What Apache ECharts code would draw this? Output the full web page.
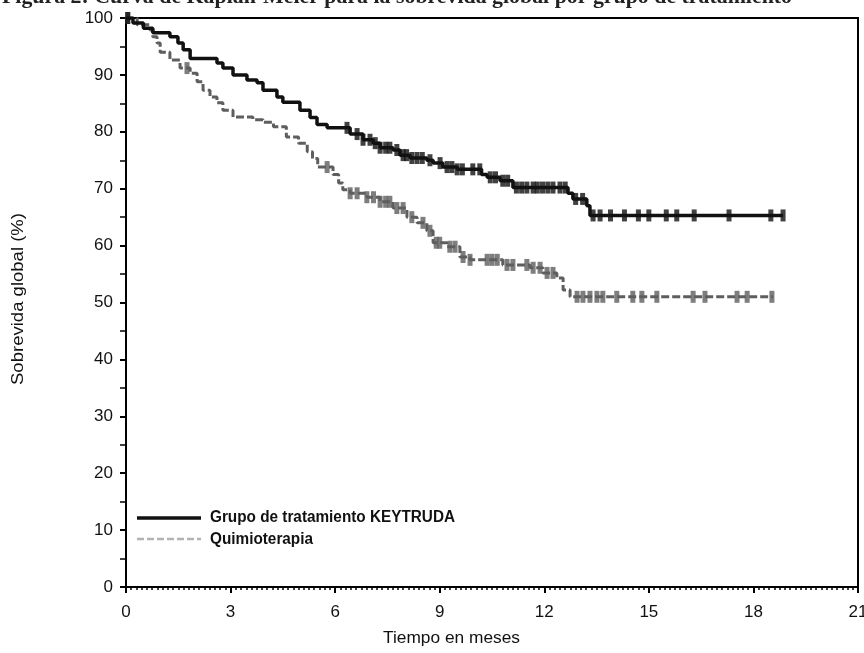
<!DOCTYPE html>
<html><head><meta charset="utf-8">
<script src="https://cdn.jsdelivr.net/npm/echarts@6/dist/echarts.min.js"></script>
<style>html,body{margin:0;padding:0;background:#fff}#c{width:864px;height:653px}</style>
</head><body><div id="c"></div>
<script>
// ---- data ----
var seriesNames = ['Grupo de tratamiento KEYTRUDA', 'Quimioterapia'];
var xTicks = [0, 3, 6, 9, 12, 15, 18, 21];
var yTicks = [0, 10, 20, 30, 40, 50, 60, 70, 80, 90, 100];
var xAxisName = 'Tiempo en meses';
var yAxisName = 'Sobrevida global (%)';
var titleText = 'Figura 2: Curva de Kaplan-Meier para la sobrevida global por grupo de tratamiento';

var keyTime = [0, 0.2, 0.5, 0.77, 1.26, 1.49, 1.64, 1.84, 2.61, 2.78, 3.07, 3.47, 3.76, 3.93, 4.33, 4.5, 4.99, 5.28, 5.48, 5.77, 6.43, 6.8, 7.09, 7.29, 7.66, 7.86, 8.15, 8.63, 8.81, 9.09, 9.5, 10.2, 10.36, 10.73, 11.1, 12.68, 12.82, 13.22, 13.31, 18.85];
var keySurv = [100, 99.1, 98.2, 97.4, 96.7, 95.6, 94.4, 92.9, 92.1, 91.2, 90.0, 89.1, 88.6, 87.3, 86.1, 85.2, 83.8, 82.5, 81.3, 80.7, 79.6, 78.6, 78.0, 77.2, 76.8, 75.9, 75.4, 75.0, 74.5, 73.8, 73.4, 72.5, 72.0, 71.4, 70.2, 69.2, 68.2, 67.0, 65.3, 65.3];
var keyCensor = [0.05, 6.34, 6.63, 6.8, 7.0, 7.15, 7.29, 7.45, 7.57, 7.77, 7.95, 8.05, 8.2, 8.35, 8.5, 8.72, 9.01, 9.21, 9.35, 9.5, 9.65, 9.95, 10.15, 10.45, 10.6, 10.81, 10.95, 11.2, 11.35, 11.5, 11.68, 11.8, 11.95, 12.1, 12.25, 12.45, 12.6, 12.9, 13.1, 13.4, 13.6, 13.9, 14.3, 14.7, 15.0, 15.5, 15.8, 16.3, 17.3, 18.5, 18.85];

var chemoTime = [0, 0.32, 0.69, 0.77, 0.89, 0.98, 1.26, 1.55, 1.84, 2.04, 2.21, 2.41, 2.61, 2.78, 3.07, 3.64, 3.93, 4.23, 4.6, 4.95, 5.2, 5.35, 5.5, 5.94, 6.1, 6.22, 6.43, 6.91, 7.29, 7.66, 8.06, 8.35, 8.63, 8.81, 9.21, 9.58, 9.87, 10.81, 11.59, 11.96, 12.36, 12.54, 12.74, 18.56];
var chemoSurv = [100, 98.8, 97.9, 96.7, 95.6, 94.0, 92.6, 91.2, 90.3, 88.8, 87.3, 86.1, 85.1, 83.8, 82.6, 82.1, 81.7, 80.9, 79.1, 78.0, 76.5, 75.3, 73.8, 72.5, 71.0, 69.8, 69.2, 68.5, 67.7, 66.6, 65.0, 64.0, 62.6, 60.5, 59.8, 58.0, 57.5, 56.6, 56.1, 55.2, 54.3, 52.2, 51.0, 51.0];
var chemoCensor = [0.05, 1.75, 5.77, 6.43, 6.63, 6.91, 7.1, 7.29, 7.45, 7.57, 7.77, 7.95, 8.2, 8.52, 8.72, 8.9, 9.0, 9.29, 9.44, 9.67, 9.87, 10.36, 10.5, 10.65, 10.93, 11.1, 11.5, 11.68, 11.88, 12.08, 12.25, 12.94, 13.11, 13.31, 13.51, 13.68, 14.08, 14.54, 14.8, 15.23, 16.27, 16.61, 17.53, 17.82, 18.53];

// ---- helpers ----
function pairs(t, s) { return t.map(function (v, i) { return [v, s[i]]; }); }
function stepAt(t, s, x) { var v = s[0]; for (var i = 0; i < t.length; i++) { if (t[i] <= x) v = s[i]; } return v; }
function censorPts(ct, t, s) { return ct.map(function (x) { return [x, stepAt(t, s, x)]; }); }
var mctx = document.createElement('canvas').getContext('2d');
function fitScale(text, font, target) { mctx.font = font; return target / mctx.measureText(text).width; }

var black = '#111111', gray = '#5e5e5e';
var chart = echarts.init(document.getElementById('c'), null, { renderer: 'canvas' });
var axisFont = 'Liberation Sans, Arial, sans-serif';
var fName = '17px "Liberation Sans", Arial, sans-serif';
var fLeg = 'bold 16px "Liberation Sans", Arial, sans-serif';
var fTitle = 'bold 22px "Liberation Serif", serif';

chart.setOption({
  animation: false,
  backgroundColor: '#fff',
  graphic: [
    { type: 'text', x: 2, y: 8, scaleX: fitScale(titleText, fTitle, 790), style: { text: titleText, font: fTitle, fill: '#222', verticalAlign: 'bottom' } },
    { type: 'text', x: 383, y: 638, scaleX: fitScale(xAxisName, fName, 137), style: { text: xAxisName, font: fName, fill: '#111', verticalAlign: 'middle' } },
    { type: 'text', x: 18, y: 299, rotation: Math.PI / 2, scaleX: fitScale(yAxisName, fName, 172), style: { text: yAxisName, font: fName, fill: '#111', align: 'center', verticalAlign: 'middle' } },
    // legend
    { type: 'line', shape: { x1: 137, y1: 518, x2: 201, y2: 518 }, style: { stroke: black, lineWidth: 3.5 } },
    { type: 'line', shape: { x1: 137, y1: 539, x2: 201, y2: 539 }, style: { stroke: '#b3b3b3', lineWidth: 2.5, lineDash: [7, 3] } },
    { type: 'text', x: 210, y: 518, scaleX: fitScale(seriesNames[0], fLeg, 245), style: { text: seriesNames[0], font: fLeg, fill: '#111', verticalAlign: 'middle' } },
    { type: 'text', x: 210, y: 540, scaleX: fitScale(seriesNames[1], fLeg, 103), style: { text: seriesNames[1], font: fLeg, fill: '#111', verticalAlign: 'middle' } }
  ],
  grid: { left: 126, right: 6, top: 18, bottom: 66, outerBoundsMode: 'none', containLabel: false, show: true, borderColor: '#000', borderWidth: 2, backgroundColor: 'transparent' },
  xAxis: {
    type: 'value', min: 0, max: 21, interval: 3,
    axisLine: { lineStyle: { color: '#000', width: 2 } },
    axisTick: { show: true, length: 6, lineStyle: { color: '#000', width: 2 } },
    minorTick: { show: true, splitNumber: 20, length: 3, lineStyle: { color: '#000', width: 1.5 } },
    splitLine: { show: false },
    axisLabel: { fontFamily: axisFont, fontSize: 17, color: '#111', margin: 17, hideOverlap: false,
      formatter: function (v) { return xTicks.indexOf(v) >= 0 ? String(v) : ''; } }
  },
  yAxis: {
    type: 'value', min: 0, max: 100, interval: 10,
    axisLine: { show: true, lineStyle: { color: '#000', width: 2 } },
    axisTick: { show: true, length: 6, lineStyle: { color: '#000', width: 2 } },
    minorTick: { show: true, splitNumber: 2, length: 6, lineStyle: { color: '#000', width: 1.5 } },
    splitLine: { show: false },
    axisLabel: { fontFamily: axisFont, fontSize: 17, color: '#111', margin: 13,
      formatter: function (v) { return yTicks.indexOf(v) >= 0 ? String(v) : ''; } }
  },
  series: [
    { name: seriesNames[1], type: 'line', step: 'end', showSymbol: false, symbol: 'none', z: 3,
      data: pairs(chemoTime, chemoSurv), lineStyle: { color: gray, width: 3, type: [8, 3] }, itemStyle: { color: gray } },
    { name: 'cens2', type: 'scatter', symbol: 'rect', symbolSize: [5, 12], z: 3,
      data: censorPts(chemoCensor, chemoTime, chemoSurv), itemStyle: { color: gray } },
    { name: seriesNames[0], type: 'line', step: 'end', showSymbol: false, symbol: 'none', z: 4,
      data: pairs(keyTime, keySurv), lineStyle: { color: black, width: 3.5 }, itemStyle: { color: black } },
    { name: 'cens1', type: 'scatter', symbol: 'rect', symbolSize: [5, 12], z: 4,
      data: censorPts(keyCensor, keyTime, keySurv), itemStyle: { color: black } }
  ]
});
</script></body></html>
